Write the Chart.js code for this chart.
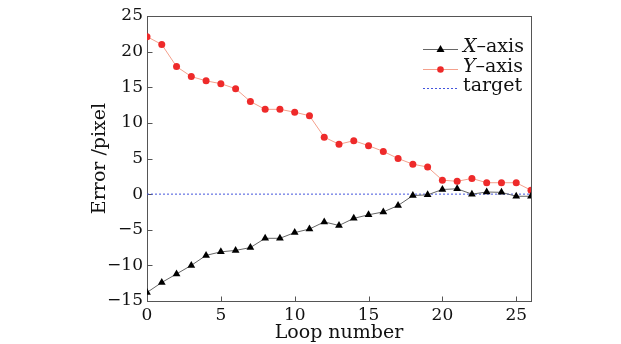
<!DOCTYPE html>
<html>
<head>
<meta charset="utf-8">
<script src="https://cdn.jsdelivr.net/npm/chart.js@4.4.0/dist/chart.umd.min.js"></script>
<style>
  html, body { margin: 0; background: #fff; }
</style>
</head>
<body>
<canvas id="chart" width="621" height="344"></canvas>
<script>
// loop index and errors
const loops = [0, 1, 2, 3, 4, 5, 6, 7, 8, 9, 10, 11, 12, 13, 14, 15, 16, 17, 18, 19, 20, 21, 22, 23, 24, 25, 26];
const xAxisErr = [-13.8, -12.4, -11.2, -10.0, -8.6, -8.1, -7.9, -7.5, -6.2, -6.2, -5.4, -4.9, -3.9, -4.4, -3.4, -2.9, -2.5, -1.6, -0.2, -0.1, 0.65, 0.75, 0.0, 0.3, 0.25, -0.3, -0.3];
const yAxisErr = [22.1, 21.0, 17.9, 16.5, 15.9, 15.5, 14.8, 13.0, 11.9, 11.9, 11.5, 11.0, 8.0, 7.0, 7.5, 6.8, 6.0, 5.0, 4.2, 3.8, 1.96, 1.8, 2.2, 1.6, 1.6, 1.6, 0.55];
const targetX = [0, 26];
const targetY = [0, 0];
const xTicks = [0, 5, 10, 15, 20, 25];
const yTicks = [-15, -10, -5, 0, 5, 10, 15, 20, 25];

const FONT = 'DejaVu Serif';
const AXIS = '#555';

const pts = (xs, ys) => xs.map((v, i) => ({ x: v, y: ys[i] }));
const minus = v => String(v).replace('-', '\u2212');

// box round the plot with inward ticks on the left and bottom
const frame = {
  id: 'frame',
  beforeDatasetsDraw(chart) {
    const { ctx, chartArea: a, scales: { x, y } } = chart;
    const L = Math.round(a.left) + 0.5, R = Math.round(a.right) + 0.5;
    const T = Math.round(a.top) + 0.5, B = Math.round(a.bottom) + 0.5;
    ctx.save();
    ctx.strokeStyle = AXIS;
    ctx.lineWidth = 1;
    ctx.strokeRect(L, T, R - L, B - T);
    ctx.beginPath();
    xTicks.forEach(v => {
      const px = Math.round(x.getPixelForValue(v)) + 0.5;
      ctx.moveTo(px, B); ctx.lineTo(px, B - 5);
    });
    yTicks.forEach(v => {
      const py = Math.round(y.getPixelForValue(v)) + 0.5;
      ctx.moveTo(L, py); ctx.lineTo(L + 5, py);
    });
    ctx.stroke();
    ctx.restore();
  }
};

// legend in the top right corner of the plot
const legendBox = {
  id: 'legendBox',
  afterDatasetsDraw(chart) {
    const { ctx, chartArea: a } = chart;
    const x0 = a.right - 108, x1 = a.right - 73, tx = a.right - 68;
    const rows = [
      { it: 'X', rest: '\u2013axis', color: '#666', dash: [], mark: 'tri' },
      { it: 'Y', rest: '\u2013axis', color: '#f4a08c', dash: [], mark: 'dot' },
      { it: '', rest: 'target', color: '#4455dd', dash: [2, 2], mark: null }
    ];
    ctx.save();
    rows.forEach((r, i) => {
      const ly = Math.round(a.top + 33 + i * 19.5) + 0.5;
      ctx.strokeStyle = r.color;
      ctx.lineWidth = 1;
      ctx.setLineDash(r.dash);
      ctx.beginPath(); ctx.moveTo(x0, ly); ctx.lineTo(x1, ly); ctx.stroke();
      ctx.setLineDash([]);
      const mx = (x0 + x1) / 2;
      if (r.mark === 'tri') {
        ctx.fillStyle = '#000';
        ctx.beginPath();
        ctx.moveTo(mx, ly - 4.5); ctx.lineTo(mx + 4, ly + 2.5); ctx.lineTo(mx - 4, ly + 2.5);
        ctx.closePath(); ctx.fill();
      } else if (r.mark === 'dot') {
        ctx.fillStyle = '#ee2a2a';
        ctx.beginPath(); ctx.arc(mx, ly, 3.3, 0, Math.PI * 2); ctx.fill();
      }
      ctx.fillStyle = '#111';
      ctx.textBaseline = 'alphabetic';
      let cx = tx;
      if (r.it) {
        ctx.font = 'italic 19px "' + FONT + '"';
        ctx.fillText(r.it, cx, ly + 2.5);
        cx += ctx.measureText(r.it).width;
      }
      ctx.font = '19px "' + FONT + '"';
      ctx.fillText(r.rest, cx, ly + 2.5);
    });
    ctx.restore();
  }
};

new Chart(document.getElementById('chart'), {
  type: 'scatter',
  data: {
    datasets: [
      {
        label: 'X-axis',
        data: pts(loops, xAxisErr),
        showLine: true,
        borderColor: '#666',
        borderWidth: 1,
        pointStyle: 'triangle',
        pointRadius: 4.5,
        pointBackgroundColor: '#000',
        pointBorderColor: '#000',
        pointBorderWidth: 0
      },
      {
        label: 'Y-axis',
        data: pts(loops, yAxisErr),
        showLine: true,
        borderColor: '#f4a08c',
        borderWidth: 1,
        pointRadius: 3.5,
        pointBackgroundColor: '#ee2a2a',
        pointBorderColor: '#ee2a2a',
        pointBorderWidth: 0
      },
      {
        label: 'target',
        data: pts(targetX, targetY),
        showLine: true,
        borderColor: '#4455dd',
        borderWidth: 1,
        borderDash: [2, 2],
        pointRadius: 0
      }
    ]
  },
  options: {
    responsive: false,
    animation: false,
    layout: { padding: { left: 89, right: 90, top: 16, bottom: 0 } },
    plugins: { legend: { display: false }, tooltip: { enabled: false } },
    scales: {
      x: {
        type: 'linear',
        min: 0,
        max: 26,
        afterBuildTicks: s => { s.ticks = xTicks.map(v => ({ value: v })); },
        afterFit: s => { s.height = 43; },
        grid: { display: false, drawTicks: false },
        border: { display: false },
        ticks: { padding: 4, color: '#111', font: { family: FONT, size: 17 }, callback: minus },
        title: { display: true, text: 'Loop number', color: '#111', padding: 0, font: { family: FONT, size: 19 } }
      },
      y: {
        min: -15,
        max: 25,
        afterBuildTicks: s => { s.ticks = yTicks.map(v => ({ value: v })); },
        afterFit: s => { s.width = 58; },
        grid: { display: false, drawTicks: false },
        border: { display: false },
        ticks: { padding: 4, color: '#111', font: { family: FONT, size: 17 }, callback: minus },
        title: { display: true, text: 'Error /pixel', color: '#111', padding: 0, font: { family: FONT, size: 19 } }
      }
    }
  },
  plugins: [frame, legendBox]
});
</script>
</body>
</html>
